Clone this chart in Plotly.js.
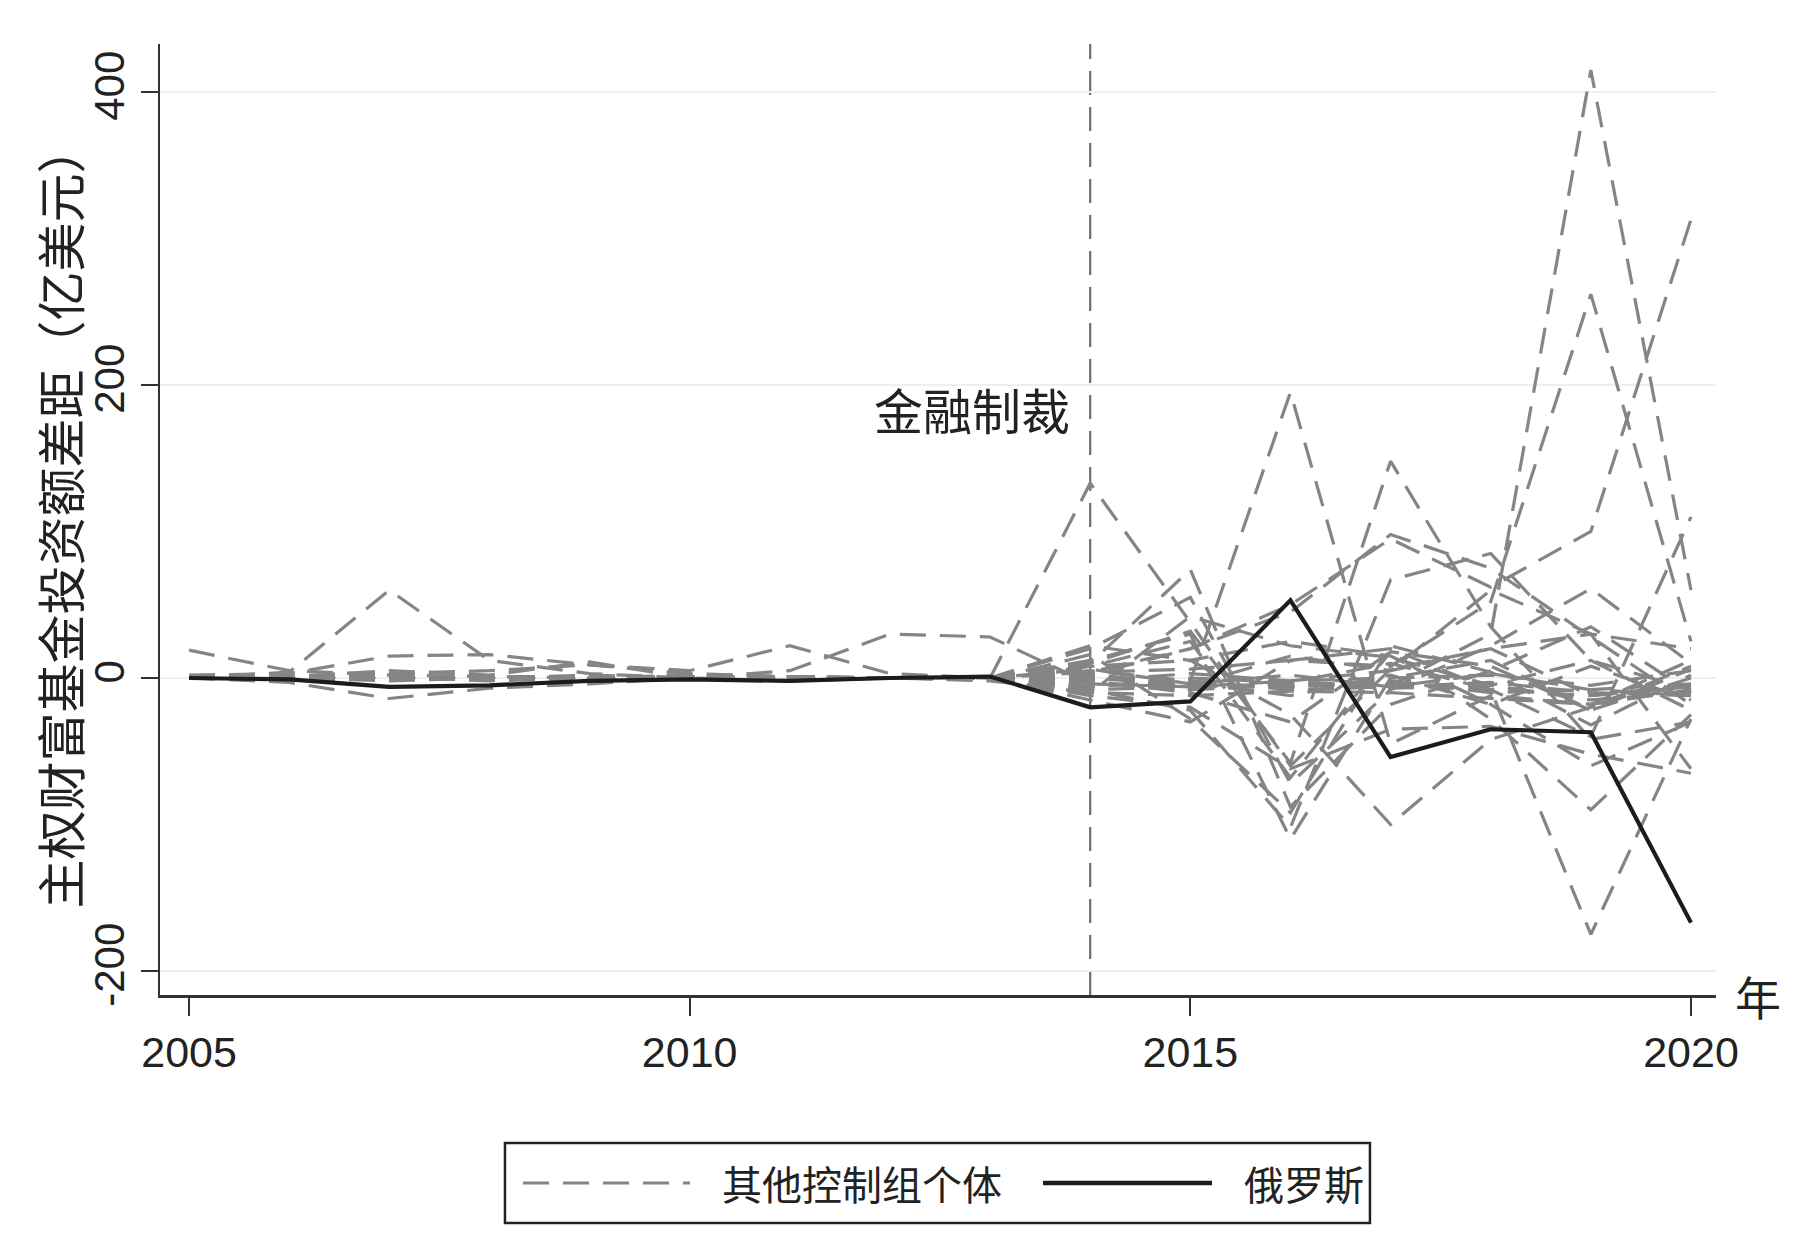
<!DOCTYPE html>
<html>
<head>
<meta charset="utf-8">
<script src="https://cdn.plot.ly/plotly-3.0.1.min.js"></script>
<style>html,body{margin:0;padding:0;background:#fff;}#chart{width:1799px;height:1248px;}</style>
</head>
<body>
<div id="chart"></div>
<script>
// ---- data ----
const years = [2005,2006,2007,2008,2009,2010,2011,2012,2013,2014,2015,2016,2017,2018,2019,2020];
const sanctionYear = 2014;
const xTickVals = [2005, 2010, 2015, 2020];
const yTickVals = [-200, 0, 200, 400];

const russia = [0,-1,-6,-5,-2,-1,-2,0,1,-20,-16,53,-54,-35,-37,-167];

const c01 = [0,4,60,12,3,0,-2,0,0,6,-4,2,-6,3,-8,-12];
const c02 = [19,5,2,1,0,2,1,0,-1,8,25,-68,18,8,-22,6];
const c03 = [2,3,15,16,9,3,1,0,-2,-10,42,22,14,-5,12,-22];
const c04 = [0,-3,-14,-7,-4,0,-1,0,-1,16,-28,-92,22,4,-32,2];
const c05 = [0,0,3,5,9,5,22,3,0,4,20,45,98,75,28,-18];
const c06 = [0,1,5,2,11,0,5,30,28,-4,-6,-2,5,60,30,20];
const c07 = [0,0,-1,0,2,0,-1,0,0,133,38,-60,6,20,-12,-5];
const c08 = [0,0,1,-2,0,1,-1,0,0,5,-2,195,-45,-12,-18,12];
const c09 = [0,0,-1,0,1,0,0,0,0,10,32,-58,148,35,-42,-30];
const c10 = [0,0,0,0,-1,0,1,0,0,-6,0,-3,-5,30,415,60];
const c11 = [0,0,1,0,0,-1,0,0,0,4,6,12,8,52,262,25];
const c12 = [0,0,0,1,0,0,1,0,0,2,20,50,95,62,100,313];
const c13 = [0,0,0,0,0,1,0,0,0,-8,-22,-102,67,85,12,-8];
const c14 = [0,-1,0,0,0,0,0,0,0,3,-8,-3,10,-8,-175,-28];
const c15 = [0,0,0,1,0,0,0,0,0,-2,-10,-30,18,-28,-90,-25];
const c16 = [0,0,-1,0,0,0,0,0,0,8,12,-25,-100,-42,-20,8];
const c17 = [0,0,0,0,0,0,0,0,0,-12,-20,-62,-35,-33,-52,-65];
const c18 = [0,0,0,0,0,0,0,0,0,12,30,-110,0,12,-22,0];
const c19 = [0,0,0,0,0,0,0,0,0,10,74,-88,-18,5,35,-10];
const c20 = [0,0,0,0,0,0,0,0,0,20,55,-72,-8,22,61,10];
const c21 = [0,0,0,0,0,0,0,0,0,-15,-30,12,20,-8,-40,110];
const c22 = [0,0,0,0,0,0,0,0,0,0,-5,15,5,20,30,-62];
const c23 = [0,0,0,0,0,0,0,0,0,22,12,25,15,-18,-60,-30];
const c24 = [0,0,0,-1,0,0,0,0,0,-5,-4,-6,-3,-8,-12,-6];
const c25 = [0,1,2,0,0,0,-1,0,0,-8,-6,-4,-7,-5,-15,-10];
const c26 = [0,0,-2,0,0,0,0,0,0,-3,-8,-5,-2,-10,-8,-4];
const c27 = [0,-1,0,0,0,0,0,0,0,-6,-2,-8,-6,-3,-10,-12];
const c28 = [0,0,0,0,0,0,0,0,0,-2,3,-2,0,2,-5,5];
const c29 = [0,0,0,0,0,0,0,0,0,-10,-12,-9,-10,-14,-18,-8];
const c30 = [0,0,1,0,0,0,0,0,0,2,-3,-12,2,-18,8,-15];

const controls = [c01,c02,c03,c04,c05,c06,c07,c08,c09,c10,c11,c12,c13,c14,c15,
                  c16,c17,c18,c19,c20,c21,c22,c23,c24,c25,c26,c27,c28,c29,c30];

const controlName = '其他控制组个体';
const russiaName = '俄罗斯';
const yTitle = '主权财富基金投资额差距（亿美元）';
const eventLabel = '金融制裁';
const xUnit = '年';

// ---- styles ----
const grayDash = {color:'#858585', width:3.2, dash:'26px,14px'};
const blackSolid = {color:'#1c1c1c', width:4.2};
const cjk = '"Noto Sans CJK SC", "Noto Sans", sans-serif';
const latin = '"Liberation Sans", Arial, sans-serif';

const traces = controls.map(v => ({
  x: years, y: v, type:'scatter', mode:'lines', line: grayDash,
  name: controlName, showlegend:false, hoverinfo:'skip'
}));
traces.push({x: years, y: russia, type:'scatter', mode:'lines', line: blackSolid,
  name: russiaName, showlegend:false, hoverinfo:'skip'});

// legend geometry (paper coords)
const lg = {x0:0.2217, x1:0.7776, y0:-0.2397, y1:-0.1556, ym:-0.1977};

const layout = {
  width:1799, height:1248,
  paper_bgcolor:'#ffffff', plot_bgcolor:'#ffffff',
  margin:{l:160, r:83, t:44, b:253},
  showlegend:false,
  xaxis:{
    range:[2004.71, 2020.25], tickvals:xTickVals, ticktext:xTickVals.map(String),
    showline:true, linecolor:'#333', linewidth:2.5, mirror:false,
    ticks:'outside', ticklen:18, tickwidth:2, tickcolor:'#333',
    showgrid:false, zeroline:false,
    tickfont:{family:latin, size:43, color:'#222'}
  },
  yaxis:{
    range:[-216.4, 432.8], tickvals:yTickVals, ticktext:yTickVals.map(String),
    tickangle:-90,
    showline:true, linecolor:'#333', linewidth:2.5,
    ticks:'outside', ticklen:17, tickwidth:2, tickcolor:'#333',
    showgrid:true, gridcolor:'#e8f1f4', gridwidth:2, zeroline:false,
    tickfont:{family:latin, size:42, color:'#222'}
  },
  shapes:[
    {type:'line', xref:'x', yref:'paper', x0:sanctionYear, x1:sanctionYear, y0:0, y1:1,
     line:{color:'#737373', width:2.3, dash:'24px,12px'}, layer:'below'},
    {type:'rect', xref:'paper', yref:'paper', x0:lg.x0, x1:lg.x1, y0:lg.y0, y1:lg.y1,
     line:{color:'#222', width:2.5}, fillcolor:'#ffffff'},
    {type:'line', xref:'paper', yref:'paper', x0:0.2333, x1:0.3406, y0:lg.ym, y1:lg.ym,
     line:{color:'#858585', width:3.2, dash:'26px,14px'}},
    {type:'line', xref:'paper', yref:'paper', x0:0.5675, x1:0.6761, y0:lg.ym, y1:lg.ym,
     line:{color:'#1c1c1c', width:4.4}}
  ],
  annotations:[
    {xref:'paper', yref:'paper', x:-0.065, y:0.503, xanchor:'center', yanchor:'middle',
     textangle:-90, text:yTitle, showarrow:false, font:{family:cjk, size:49, color:'#222'}},
    {xref:'x', yref:'y', x:sanctionYear, y:184, xanchor:'right', yanchor:'middle', xshift:-18,
     text:eventLabel, showarrow:false, font:{family:cjk, size:49, color:'#222'}},
    {xref:'paper', yref:'paper', x:1.011, y:0, xanchor:'left', yanchor:'middle',
     text:xUnit, showarrow:false, font:{family:cjk, size:46, color:'#222'}},
    {xref:'paper', yref:'paper', x:0.3599, y:lg.ym, xanchor:'left', yanchor:'middle',
     text:controlName, showarrow:false, font:{family:cjk, size:40, color:'#222'}},
    {xref:'paper', yref:'paper', x:0.6954, y:lg.ym, xanchor:'left', yanchor:'middle',
     text:russiaName, showarrow:false, font:{family:cjk, size:40, color:'#222'}}
  ]
};

Plotly.newPlot('chart', traces, layout, {staticPlot:true, displayModeBar:false});
</script>
</body>
</html>
